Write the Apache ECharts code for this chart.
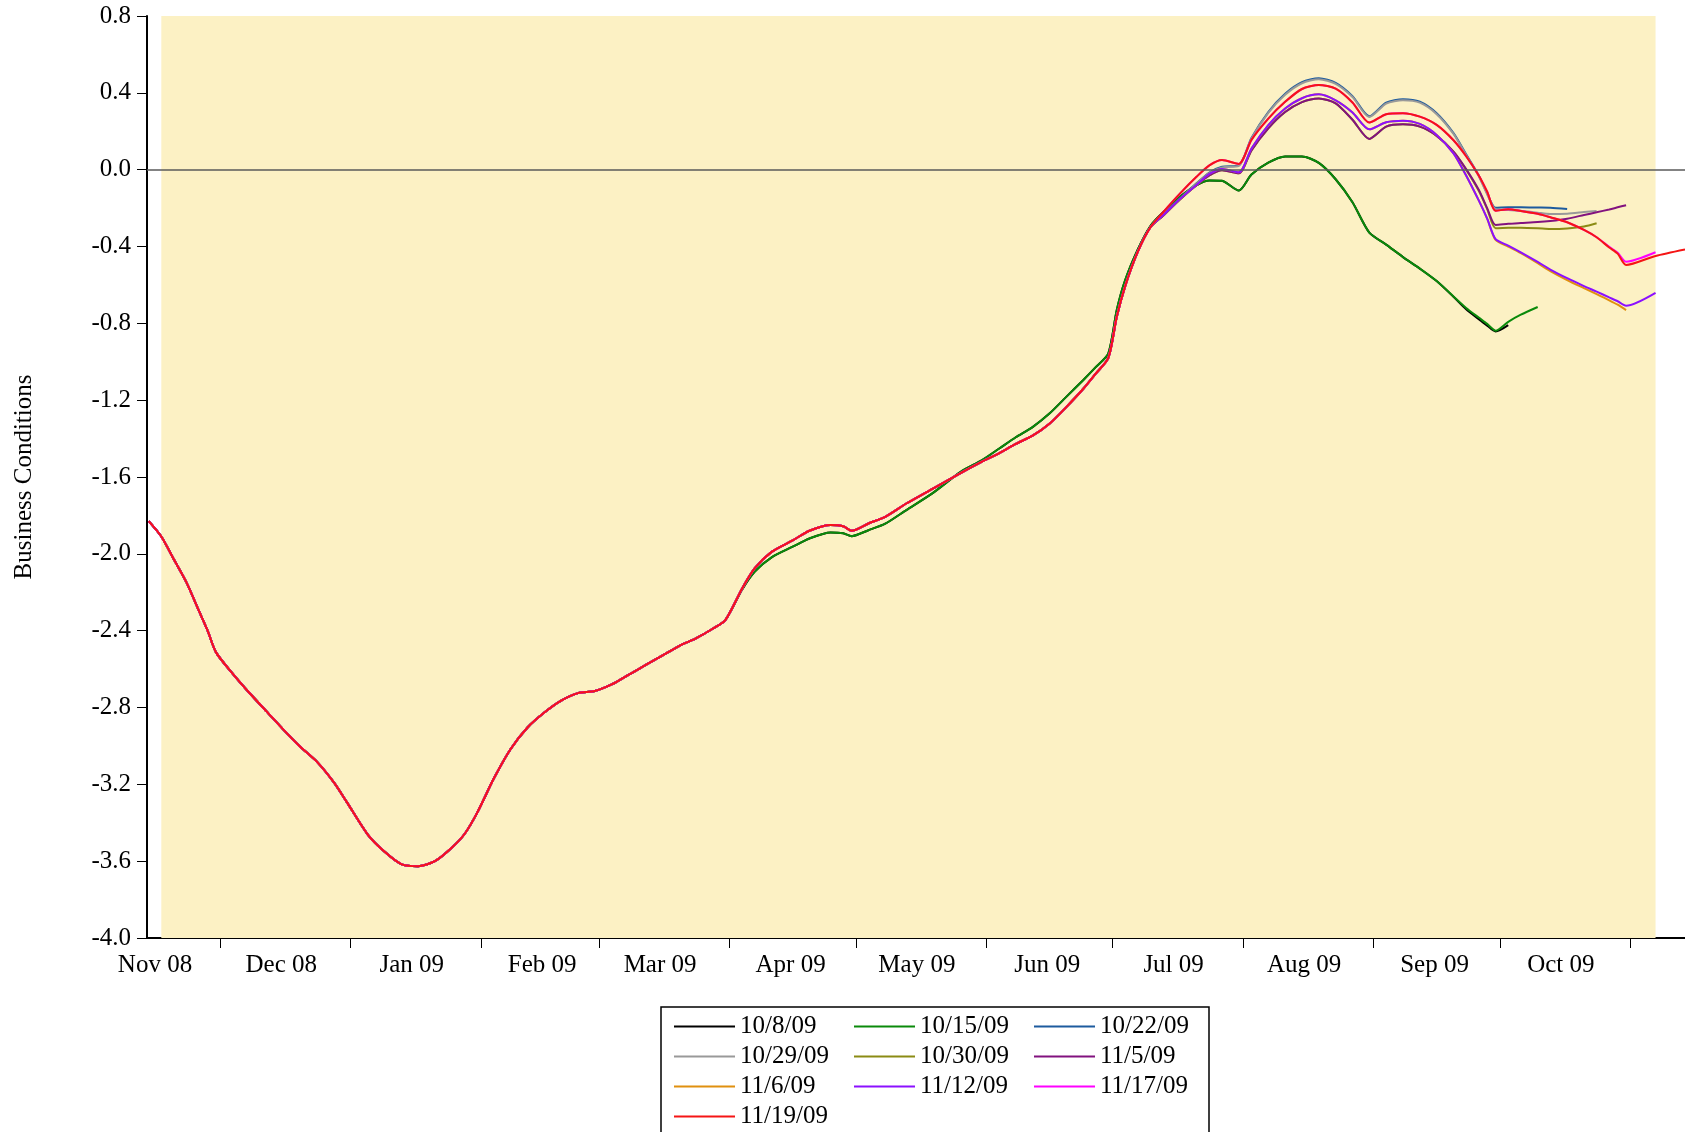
<!DOCTYPE html>
<html>
<head>
<meta charset="utf-8">
<script src="https://cdn.jsdelivr.net/npm/echarts@6/dist/echarts.min.js"></script>
<style>
html, body { margin: 0; padding: 0; background: #fff; }
#chart { width: 1685px; height: 1132px; }
</style>
</head>
<body>
<div id="chart"></div>
<script>
// vintages (release dates) in legend order
var vintageNames = ['10/8/09', '10/15/09', '10/22/09', '10/29/09', '10/30/09',
                    '11/5/09', '11/6/09', '11/12/09', '11/17/09', '11/19/09'];
var vintageColors = ['#000000', '#0a8a0a', '#1d5b9e', '#999999', '#8b8b14',
                     '#82127f', '#e0900f', '#8b10ff', '#ff00ff', '#f51515'];

var monthLabels = ['Nov 08', 'Dec 08', 'Jan 09', 'Feb 09', 'Mar 09', 'Apr 09',
                   'May 09', 'Jun 09', 'Jul 09', 'Aug 09', 'Sep 09', 'Oct 09'];

// shared history, same in every vintage
var histDates = ['2008-11-14', '2008-11-17', '2008-11-20', '2008-11-23', '2008-11-26', '2008-11-28',
                 '2008-11-30', '2008-12-04', '2008-12-08', '2008-12-12', '2008-12-16', '2008-12-20',
                 '2008-12-24', '2008-12-28', '2008-12-31', '2009-01-05', '2009-01-09', '2009-01-13',
                 '2009-01-17', '2009-01-21', '2009-01-25', '2009-01-28', '2009-01-31', '2009-02-04',
                 '2009-02-08', '2009-02-12', '2009-02-16', '2009-02-20', '2009-02-24', '2009-02-28',
                 '2009-03-04', '2009-03-08', '2009-03-12', '2009-03-16', '2009-03-20', '2009-03-24',
                 '2009-03-28', '2009-03-31'];
var histValues = [-1.83, -1.91, -2.03, -2.15, -2.30, -2.40,
                  -2.513, -2.625, -2.726, -2.82, -2.915, -3.004,
                  -3.083, -3.19, -3.29, -3.46, -3.55, -3.615,
                  -3.626, -3.60, -3.53, -3.46, -3.35, -3.17,
                  -3.016, -2.904, -2.826, -2.764, -2.725, -2.714,
                  -2.68, -2.63, -2.58, -2.53, -2.48, -2.44,
                  -2.39, -2.345];

// April to early July: two older vintages vs the rest
var springDates = ['2009-04-04', '2009-04-07', '2009-04-11', '2009-04-16', '2009-04-20', '2009-04-25',
                   '2009-04-28', '2009-04-30', '2009-05-04', '2009-05-08', '2009-05-13', '2009-05-19',
                   '2009-05-26', '2009-05-31', '2009-06-04', '2009-06-08', '2009-06-12', '2009-06-16',
                   '2009-06-20', '2009-06-24', '2009-06-27', '2009-06-30', '2009-07-02', '2009-07-04',
                   '2009-07-07', '2009-07-10'];
var springOld = [-2.185, -2.092, -2.018, -1.963, -1.92, -1.889,
                 -1.893, -1.908, -1.877, -1.843, -1.772, -1.688,
                 -1.572, -1.512, -1.453, -1.393, -1.34, -1.27,
                 -1.183, -1.096, -1.028, -0.956, -0.731, -0.575,
                 -0.415, -0.293];
var springNew = [-2.18, -2.075, -1.99, -1.93, -1.88, -1.85,
                 -1.856, -1.88, -1.842, -1.807, -1.738, -1.664,
                 -1.578, -1.52, -1.477, -1.428, -1.385, -1.323,
                 -1.236, -1.142, -1.062, -0.98, -0.766, -0.606,
                 -0.427, -0.30];

// mid July onwards, one list per vintage (null = not yet available)
var lateDates = ['2009-07-13', '2009-07-17', '2009-07-21', '2009-07-24', '2009-07-27', '2009-07-31',
                 '2009-08-03', '2009-08-07', '2009-08-11', '2009-08-15', '2009-08-19', '2009-08-23',
                 '2009-08-27', '2009-08-31', '2009-09-04', '2009-09-08', '2009-09-12', '2009-09-16',
                 '2009-09-20', '2009-09-23', '2009-09-26', '2009-09-28', '2009-09-30', '2009-10-03',
                 '2009-10-06', '2009-10-10', '2009-10-13', '2009-10-17', '2009-10-21', '2009-10-24',
                 '2009-10-27', '2009-10-29', '2009-10-31', '2009-11-07', '2009-11-14'];
var late1008 = [-0.222, -0.141, -0.08, -0.056, -0.058, -0.109,
                -0.025, 0.037, 0.069, 0.069, 0.035, -0.05,
                -0.17, -0.328, -0.39, -0.455, -0.515, -0.58,
                -0.662, -0.727, -0.778, -0.812, -0.842, -0.809,
                null, null, null, null, null, null, null, null, null, null, null];
var late1015 = [-0.222, -0.141, -0.08, -0.056, -0.058, -0.109,
                -0.025, 0.037, 0.069, 0.069, 0.035, -0.05,
                -0.17, -0.328, -0.39, -0.455, -0.515, -0.58,
                -0.66, -0.72, -0.77, -0.803, -0.838, -0.792,
                -0.755, -0.715, null, null, null, null, null, null, null, null, null];
var late1022 = [-0.236, -0.15, -0.07, -0.015, 0.015, 0.022,
                0.165, 0.30, 0.395, 0.455, 0.476, 0.452,
                0.383, 0.278, 0.349, 0.367, 0.354, 0.294,
                0.19, 0.08, -0.03, -0.124, -0.198, -0.196,
                -0.196, -0.197, -0.198, -0.205, null, null, null, null, null, null, null];
var late1029 = [-0.238, -0.152, -0.072, -0.018, 0.012, 0.02,
                0.162, 0.296, 0.39, 0.45, 0.471, 0.447,
                0.378, 0.274, 0.344, 0.362, 0.349, 0.289,
                0.186, 0.076, -0.034, -0.128, -0.206, -0.21,
                -0.214, -0.224, -0.231, -0.229, -0.221, -0.215, null, null, null, null, null];
var late1030 = [-0.24, -0.155, -0.08, -0.03, -0.003, -0.019,
                0.10, 0.215, 0.30, 0.352, 0.371, 0.345,
                0.26, 0.16, 0.224, 0.236, 0.224, 0.176,
                0.094, 0.0, -0.11, -0.205, -0.305, -0.303,
                -0.302, -0.305, -0.309, -0.306, -0.296, -0.279, null, null, null, null, null];
var late1105 = [-0.24, -0.155, -0.08, -0.03, -0.003, -0.019,
                0.10, 0.215, 0.30, 0.352, 0.371, 0.345,
                0.26, 0.16, 0.224, 0.236, 0.224, 0.176,
                0.094, 0.003, -0.105, -0.2, -0.288, -0.282,
                -0.278, -0.273, -0.267, -0.255, -0.236, -0.222, -0.207, -0.196, -0.185, null, null];
var late1106 = [-0.238, -0.153, -0.078, -0.022, 0.004, -0.014,
                0.11, 0.232, 0.318, 0.372, 0.392, 0.361,
                0.298, 0.21, 0.247, 0.255, 0.238, 0.181,
                0.085, -0.03, -0.16, -0.255, -0.366, -0.40,
                -0.435, -0.487, -0.528, -0.575, -0.617, -0.648, -0.68, -0.703, -0.731, null, null];
var late1112 = [-0.238, -0.153, -0.078, -0.022, 0.004, -0.014,
                0.11, 0.232, 0.318, 0.372, 0.392, 0.361,
                0.298, 0.21, 0.247, 0.255, 0.238, 0.181,
                0.085, -0.03, -0.16, -0.255, -0.362, -0.395,
                -0.43, -0.48, -0.52, -0.565, -0.606, -0.635, -0.665, -0.685, -0.708, -0.641, null];
var late1117 = [-0.222, -0.125, -0.036, 0.022, 0.05, 0.03,
                0.155, 0.266, 0.353, 0.42, 0.441, 0.422,
                0.35, 0.245, 0.289, 0.294, 0.276, 0.233,
                0.153, 0.07, -0.03, -0.115, -0.214, -0.206,
                -0.215, -0.23, -0.248, -0.274, -0.314, -0.352, -0.402, -0.432, -0.479, -0.43, null];
var late1119 = [-0.222, -0.125, -0.036, 0.022, 0.05, 0.03,
                0.155, 0.266, 0.353, 0.42, 0.441, 0.422,
                0.35, 0.245, 0.289, 0.294, 0.276, 0.233,
                0.153, 0.07, -0.03, -0.115, -0.214, -0.206,
                -0.215, -0.23, -0.248, -0.274, -0.314, -0.352, -0.405, -0.437, -0.496, -0.449, -0.415];

var lateByVintage = [late1008, late1015, late1022, late1029, late1030,
                     late1105, late1106, late1112, late1117, late1119];
var springByVintage = [springOld, springOld, springNew, springNew, springNew,
                       springNew, springNew, springNew, springNew, springNew];

var shadeStart = '2008-11-17';
var shadeEnd = '2009-11-07';

// 'YYYY-MM-DD' -> local timestamp
function ts(s) {
    var p = s.split('-');
    return new Date(+p[0], +p[1] - 1, +p[2]).getTime();
}

function pairs(dates, values) {
    var out = [];
    for (var i = 0; i < dates.length; i++) {
        if (values[i] !== null) out.push([ts(dates[i]), values[i]]);
    }
    return out;
}

var FONT = 'Liberation Serif';

// month boundaries for ticks, mid-month for labels
var tickValues = [], labelValues = [];
for (var k = 0; k < 12; k++) {
    tickValues.push(new Date(2008, 11 + k, 1).getTime());
    labelValues.push(new Date(2008, 10 + k, 15, 12).getTime());
}

var series = [{
    // background band and zero line
    type: 'line',
    data: [],
    silent: true,
    markArea: {
        silent: true,
        itemStyle: { color: '#fcf1c4' },
        data: [[{ xAxis: ts(shadeStart) }, { xAxis: ts(shadeEnd) }]]
    },
    markLine: {
        silent: true,
        symbol: ['none', 'none'],
        label: { show: false },
        lineStyle: { color: '#5a5a5a', width: 1.5, type: 'solid' },
        data: [{ yAxis: 0 }]
    }
}];

vintageNames.forEach(function (name, i) {
    series.push({
        name: name,
        type: 'line',
        symbol: 'none',
        showSymbol: false,
        smooth: 0.25,
        lineStyle: { width: 2, color: vintageColors[i] },
        itemStyle: { color: vintageColors[i] },
        emphasis: { disabled: true },
        data: pairs(histDates, histValues)
            .concat(pairs(springDates, springByVintage[i]))
            .concat(pairs(lateDates, lateByVintage[i]))
    });
});

var chart = echarts.init(document.getElementById('chart'));
chart.setOption({
    animation: false,
    backgroundColor: '#ffffff',
    textStyle: { fontFamily: FONT, color: '#000' },
    grid: { left: 147, right: 0, top: 16, bottom: 194 },
    xAxis: {
        type: 'value',
        min: new Date(2008, 10, 13, 14, 24).getTime(),
        max: new Date(2009, 10, 14).getTime(),
        axisLine: { show: true, onZero: false, lineStyle: { color: '#000', width: 2 } },
        axisTick: { show: true, customValues: tickValues, length: 10, lineStyle: { color: '#000', width: 1 } },
        axisLabel: {
            customValues: labelValues,
            margin: 15,
            fontSize: 25,
            fontFamily: FONT,
            color: '#000',
            formatter: function (v) {
                var d = new Date(v);
                return monthLabels[(d.getFullYear() - 2008) * 12 + d.getMonth() - 10];
            }
        },
        splitLine: { show: false }
    },
    yAxis: {
        type: 'value',
        min: -4,
        max: 0.8,
        interval: 0.4,
        name: 'Business Conditions',
        nameLocation: 'middle',
        nameGap: 110,
        nameTextStyle: { fontSize: 25, fontFamily: FONT, color: '#000' },
        axisLine: { show: true, lineStyle: { color: '#000', width: 2 } },
        axisTick: { show: true, length: 10, lineStyle: { color: '#000', width: 1 } },
        axisLabel: {
            margin: 16,
            fontSize: 25,
            fontFamily: FONT,
            color: '#000',
            formatter: function (v) { return v.toFixed(1); }
        },
        splitLine: { show: false }
    },
    legend: {
        data: vintageNames,
        left: 661,
        top: 1007,
        width: 560,
        orient: 'horizontal',
        padding: [7, 0, 8, 13],
        borderColor: '#000',
        borderWidth: 1.5,
        icon: 'path://M0,0L60,0L60,2L0,2Z',
        itemWidth: 61,
        itemHeight: 12,
        itemGap: 5,
        selectedMode: false,
        textStyle: { fontSize: 25, fontFamily: FONT, color: '#000', width: 109, lineHeight: 25 }
    },
    series: series
});
</script>
</body>
</html>
